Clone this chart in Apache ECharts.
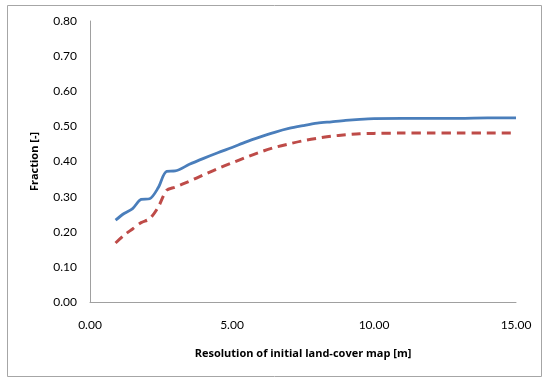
<!DOCTYPE html>
<html><head><meta charset="utf-8">
<script src="https://cdn.jsdelivr.net/npm/echarts@6/dist/echarts.min.js"></script>
<style>html,body{margin:0;padding:0;background:#fff}#c{width:544px;height:378px}</style>
</head><body><div id="c"></div>
<script>
const xTicks = [0, 5, 10, 15];
const yTicks = [0, 0.1, 0.2, 0.3, 0.4, 0.5, 0.6, 0.7, 0.8];
const xName = 'Resolution of initial land-cover map [m]';
const yName = 'Fraction [-]';
const resolution = [0.9,1.2,1.5,1.8,2.1,2.4,2.7,3.0,3.5,4.0,4.5,5.0,5.5,6.0,6.5,7.0,7.5,8.0,8.5,9.0,9.5,10,11,12,13,14,15];
const seriesA = [0.233,0.252,0.266,0.292,0.294,0.325,0.372,0.373,0.392,0.409,0.425,0.440,0.456,0.470,0.483,0.494,0.502,0.509,0.513,0.517,0.520,0.522,0.523,0.523,0.523,0.524,0.524];
const seriesB = [0.168,0.190,0.208,0.226,0.237,0.270,0.318,0.327,0.344,0.362,0.380,0.396,0.412,0.427,0.440,0.450,0.459,0.466,0.472,0.476,0.479,0.480,0.481,0.481,0.481,0.481,0.481];

const chart = echarts.init(document.getElementById('c'), null, {renderer:'canvas'});
const font = 'Lato, Open Sans, sans-serif';
const boldFont = 'Open Sans, sans-serif';
chart.setOption({
  animation:false,
  graphic:[{type:'rect',shape:{x:7.5,y:5.5,width:534,height:371},style:{fill:'none',stroke:'#a6a6a6',lineWidth:1},silent:true}],
  grid:{left:90,right:28,top:21,bottom:76},
  xAxis:{type:'value',min:xTicks[0],max:xTicks[xTicks.length-1],interval:5,
    name:xName,nameLocation:'middle',nameGap:46,
    nameTextStyle:{fontFamily:boldFont,fontSize:11,fontWeight:'bold',color:'#000'},
    axisLine:{lineStyle:{color:'#a0a0a0',width:1}},axisTick:{show:false},splitLine:{show:false},
    axisLabel:{fontFamily:font,fontSize:12,color:'#000',margin:17,formatter:v=>v.toFixed(2)}},
  yAxis:{type:'value',min:yTicks[0],max:yTicks[yTicks.length-1],interval:0.1,
    name:yName,nameLocation:'middle',nameGap:50,
    nameTextStyle:{fontFamily:boldFont,fontSize:11,fontWeight:'bold',color:'#000'},
    axisLine:{show:true,lineStyle:{color:'#a0a0a0',width:1}},axisTick:{show:false},splitLine:{show:false},
    axisLabel:{fontFamily:font,fontSize:12,color:'#000',margin:13,formatter:v=>v.toFixed(2)}},
  series:[
    {type:'line',data:resolution.map((x,i)=>[x,seriesA[i]]),showSymbol:false,smooth:0.3,
     lineStyle:{color:'#4a7ebb',width:2.8}},
    {type:'line',data:resolution.map((x,i)=>[x,seriesB[i]]),showSymbol:false,smooth:0.3,
     lineStyle:{color:'#be4b48',width:3,type:[9,6]}}
  ]
});
</script></body></html>
